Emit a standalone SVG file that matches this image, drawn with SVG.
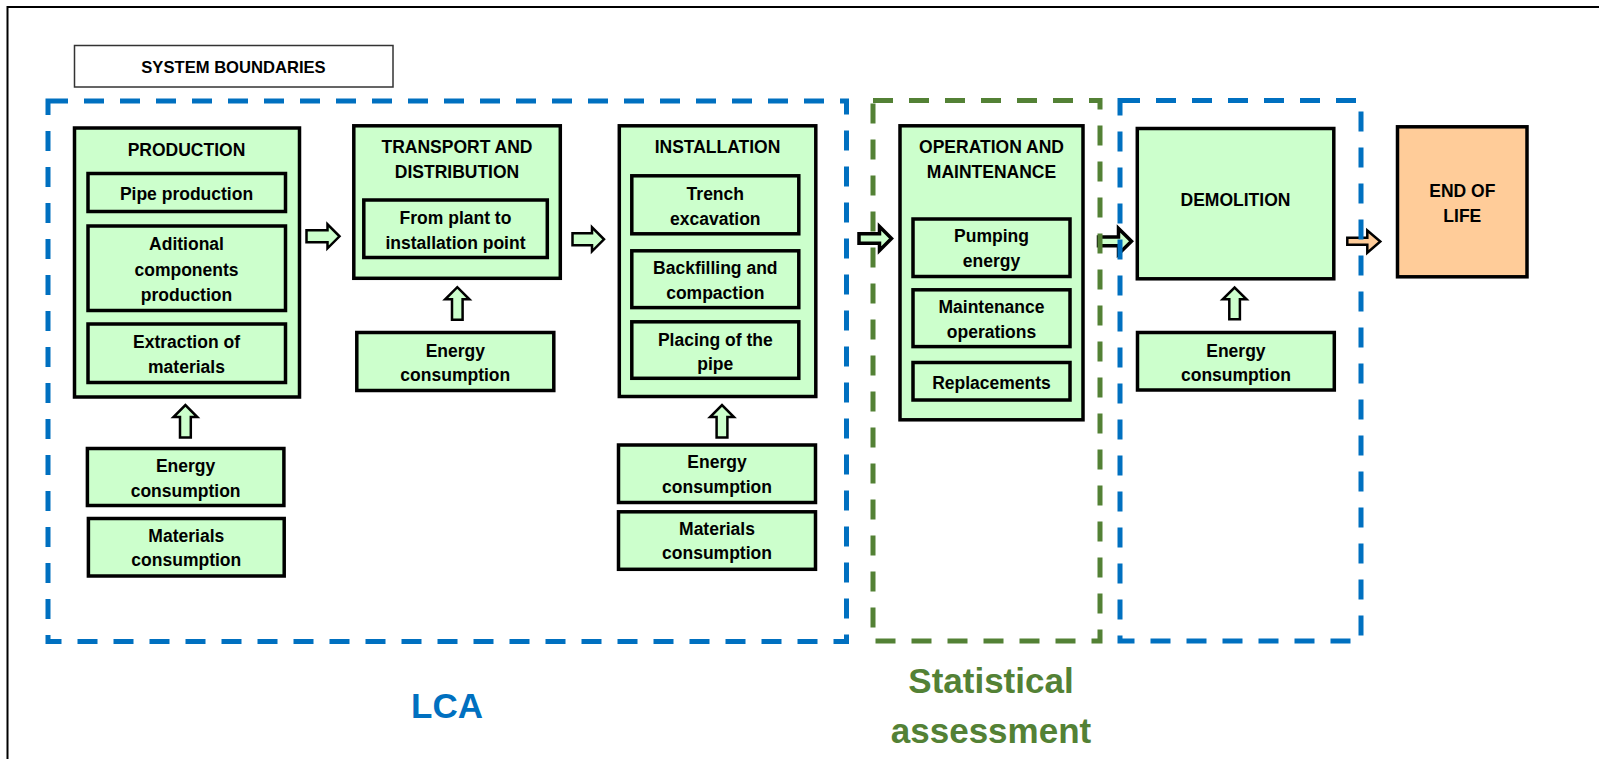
<svg xmlns="http://www.w3.org/2000/svg" width="1599" height="759" viewBox="0 0 1599 759">
  <style>
    .box { fill: #CCFFCC; stroke: #000; stroke-width: 3.5; }
    .eol { fill: #FFCC99; stroke: #000; stroke-width: 3.5; }
    .lbl { font-family: "Liberation Sans", Arial, sans-serif; font-weight: bold; font-size: 17.5px; fill: #000; text-anchor: middle; }
    .arr { fill: #CCFFCC; stroke: #000; stroke-width: 2.5; stroke-linejoin: miter; }
    .arr-thick { fill: #CCFFCC; stroke: #000; stroke-width: 3.5; stroke-linejoin: miter; }
    .arr-eol { fill: #FFCC99; stroke: #000; stroke-width: 2.5; stroke-linejoin: miter; }
    .bnd-blue { fill: none; stroke: #0070C0; stroke-width: 5; stroke-dasharray: 20 16; }
    .bnd-green { fill: none; stroke: #538135; stroke-width: 5; stroke-dasharray: 20 16; }
    .big { font-family: "Liberation Sans", Arial, sans-serif; font-weight: bold; font-size: 35px; text-anchor: middle; }
  </style>

  <rect width="1599" height="759" fill="#fff"/>
  <!-- page frame -->
  <path d="M7.5,759 V7 H1599" fill="none" stroke="#000" stroke-width="2"/>

  <!-- title tag -->
  <g id="system-boundaries">
    <rect x="74.5" y="45.5" width="318.5" height="41.5" fill="#fff" stroke="#333" stroke-width="1.5"/>
    <text class="lbl" x="233.5" y="73" style="font-size:16.6px">SYSTEM BOUNDARIES</text>
  </g>

  <!-- Production stage -->
  <g id="production">
    <rect class="box" x="74.5" y="128" width="225" height="269"/>
    <text class="lbl" x="186.5" y="156">PRODUCTION</text>
    <rect class="box" x="88" y="173.5" width="197.5" height="38"/>
    <text class="lbl" x="186.5" y="200">Pipe production</text>
    <rect class="box" x="88" y="226" width="197.5" height="84.5"/>
    <text class="lbl" x="186.5" y="250"><tspan x="186.5">Aditional</tspan><tspan x="186.5" dy="25.5">components</tspan><tspan x="186.5" dy="25.5">production</tspan></text>
    <rect class="box" x="88" y="324" width="197.5" height="58.5"/>
    <text class="lbl" x="186.5" y="348.3"><tspan x="186.5">Extraction of</tspan><tspan x="186.5" dy="24.5">materials</tspan></text>
  </g>
  <g id="production-energy">
    <rect class="box" x="87.4" y="448.5" width="196.5" height="57"/>
    <text class="lbl" x="185.6" y="471.7"><tspan x="185.6">Energy</tspan><tspan x="185.6" dy="25">consumption</tspan></text>
  </g>
  <g id="production-materials">
    <rect class="box" x="88.4" y="518.5" width="195.8" height="57.5"/>
    <text class="lbl" x="186.3" y="541.7"><tspan x="186.3">Materials</tspan><tspan x="186.3" dy="24.5">consumption</tspan></text>
  </g>

  <!-- Transport stage -->
  <g id="transport">
    <rect class="box" x="353.8" y="125.8" width="206.5" height="152.5"/>
    <text class="lbl" x="457" y="153.3"><tspan x="457">TRANSPORT AND</tspan><tspan x="457" dy="25">DISTRIBUTION</tspan></text>
    <rect class="box" x="363.8" y="200" width="183.5" height="57.5"/>
    <text class="lbl" x="455.5" y="224.3"><tspan x="455.5">From plant to</tspan><tspan x="455.5" dy="25">installation point</tspan></text>
  </g>
  <g id="transport-energy">
    <rect class="box" x="356.8" y="332.5" width="197" height="58"/>
    <text class="lbl" x="455.3" y="356.7"><tspan x="455.3">Energy</tspan><tspan x="455.3" dy="24.3">consumption</tspan></text>
  </g>

  <!-- Installation stage -->
  <g id="installation">
    <rect class="box" x="619.3" y="125.8" width="196.5" height="270.7"/>
    <text class="lbl" x="717.5" y="153.3">INSTALLATION</text>
    <rect class="box" x="631.8" y="175.8" width="167" height="58"/>
    <text class="lbl" x="715.3" y="200"><tspan x="715.3">Trench</tspan><tspan x="715.3" dy="25">excavation</tspan></text>
    <rect class="box" x="631.8" y="250.8" width="167" height="56.8"/>
    <text class="lbl" x="715.3" y="274.3"><tspan x="715.3">Backfilling and</tspan><tspan x="715.3" dy="24.4">compaction</tspan></text>
    <rect class="box" x="631.8" y="321.8" width="167" height="56.5"/>
    <text class="lbl" x="715.3" y="345.7"><tspan x="715.3">Placing of the</tspan><tspan x="715.3" dy="24.3">pipe</tspan></text>
  </g>
  <g id="installation-energy">
    <rect class="box" x="618.5" y="445" width="197" height="57.5"/>
    <text class="lbl" x="717" y="468.3"><tspan x="717">Energy</tspan><tspan x="717" dy="25">consumption</tspan></text>
  </g>
  <g id="installation-materials">
    <rect class="box" x="618.5" y="511.8" width="197" height="57.5"/>
    <text class="lbl" x="717" y="535"><tspan x="717">Materials</tspan><tspan x="717" dy="24.3">consumption</tspan></text>
  </g>

  <!-- Operation stage -->
  <g id="operation">
    <rect class="box" x="900" y="125.8" width="183" height="294"/>
    <text class="lbl" x="991.5" y="152.7"><tspan x="991.5">OPERATION AND</tspan><tspan x="991.5" dy="25">MAINTENANCE</tspan></text>
    <rect class="box" x="913" y="219" width="157" height="57.5"/>
    <text class="lbl" x="991.5" y="242.3"><tspan x="991.5">Pumping</tspan><tspan x="991.5" dy="24.4">energy</tspan></text>
    <rect class="box" x="913" y="289.8" width="157" height="56.8"/>
    <text class="lbl" x="991.5" y="312.7"><tspan x="991.5">Maintenance</tspan><tspan x="991.5" dy="25">operations</tspan></text>
    <rect class="box" x="913" y="362.5" width="157" height="37.5"/>
    <text class="lbl" x="991.5" y="389">Replacements</text>
  </g>

  <!-- Demolition stage -->
  <g id="demolition">
    <rect class="box" x="1137.3" y="128.5" width="196.5" height="150.3"/>
    <text class="lbl" x="1235.5" y="205.7">DEMOLITION</text>
  </g>
  <g id="demolition-energy">
    <rect class="box" x="1137.5" y="332.5" width="196.8" height="57.5"/>
    <text class="lbl" x="1235.9" y="356.7"><tspan x="1235.9">Energy</tspan><tspan x="1235.9" dy="24.3">consumption</tspan></text>
  </g>

  <!-- End of life -->
  <g id="end-of-life">
    <rect class="eol" x="1397.5" y="126.8" width="129.5" height="150"/>
    <text class="lbl" x="1462.3" y="196.7"><tspan x="1462.3">END OF</tspan><tspan x="1462.3" dy="25">LIFE</tspan></text>
  </g>

  <!-- block arrows between stages -->
  <g id="connectors">
    <polygon class="arr" points="306.5,230.3 327.5,230.3 327.5,224.3 339.5,236.3 327.5,248.3 327.5,242.3 306.5,242.3"/>
    <polygon class="arr" points="572.5,233.3 592,233.3 592,227.3 604,239.3 592,251.3 592,245.3 572.5,245.3"/>
    <polygon class="arr-thick" points="859,233.8 879.5,233.8 879.5,226.5 891.5,238.5 879.5,250.5 879.5,243.2 859,243.2"/>
    <polygon class="arr-thick" points="1098.5,237 1118.5,237 1118.5,228.5 1131.5,241.3 1118.5,254 1118.5,245.7 1098.5,245.7"/>
    <polygon class="arr-eol" points="1347.3,237.7 1367.3,237.7 1367.3,230.5 1380.3,241.5 1367.3,252.7 1367.3,244.7 1347.3,244.7"/>
    <polygon class="arr" points="180,437.5 180,417 173.5,417 185.4,405 197.3,417 190.8,417 190.8,437.5"/>
    <polygon class="arr" points="452,319.7 452,299.3 445.2,299.3 457.3,287.2 469.4,299.3 462.6,299.3 462.6,319.7"/>
    <polygon class="arr" points="716.6,437.5 716.6,417 710.1,417 722,405 733.9,417 727.4,417 727.4,437.5"/>
    <polygon class="arr" points="1229.3,319.2 1229.3,299.3 1222.7,299.3 1234.6,287.5 1246.5,299.3 1239.9,299.3 1239.9,319.2"/>
  </g>

  <!-- assessment boundaries -->
  <g id="lca-boundary">
    <rect class="bnd-blue" x="48" y="101" width="798.5" height="540.5"/>
    <text class="big" x="447" y="718" fill="#0070C0">LCA</text>
  </g>
  <g id="statistical-boundary">
    <rect class="bnd-green" x="873" y="100.5" width="227" height="540.5"/>
    <text class="big" x="991" y="693.3" fill="#538135"><tspan x="991">Statistical</tspan><tspan x="991" dy="50">assessment</tspan></text>
  </g>
  <g id="demolition-boundary">
    <rect class="bnd-blue" x="1120" y="100.5" width="241" height="540.5"/>
  </g>
</svg>
